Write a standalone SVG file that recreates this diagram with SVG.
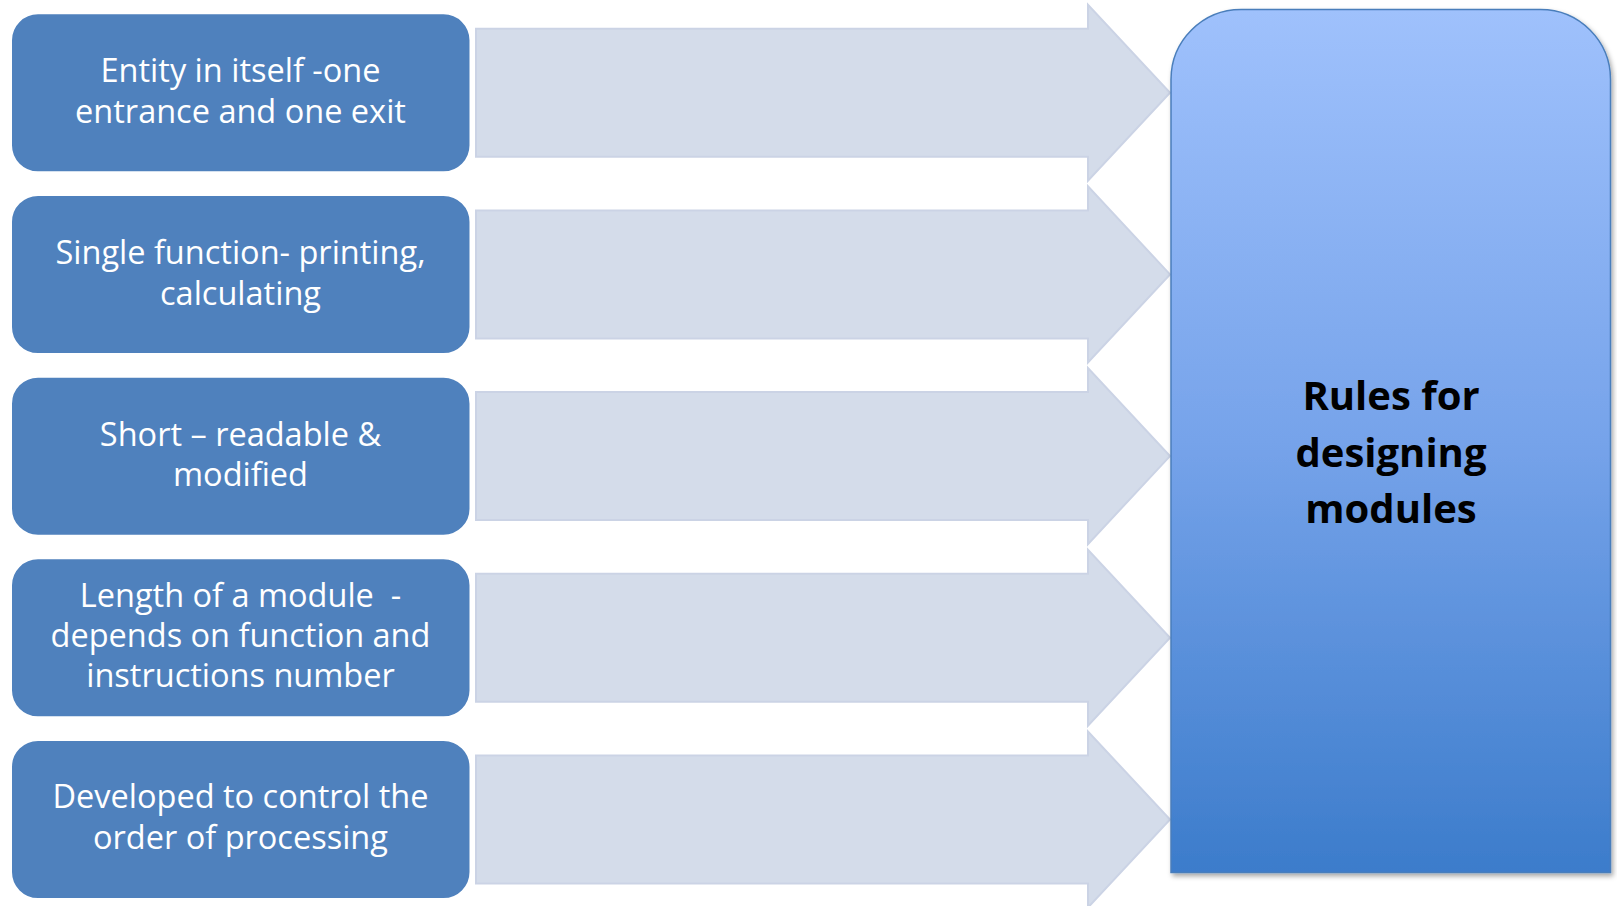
<svg xmlns="http://www.w3.org/2000/svg" width="1617" height="906" viewBox="0 0 1617 906">
  <style>
    .arrow { fill: #d4dcea; stroke: #cbd3e5; stroke-width: 2; stroke-linejoin: miter; }
    .box { fill: #4f81bd; stroke: #ffffff; stroke-width: 2; }
    .btxt { font-family: "Open Sans", "Liberation Sans", sans-serif; font-size: 32.5px; fill: #ffffff; text-anchor: middle; white-space: pre; }
    .big { font-family: "Open Sans", "Liberation Sans", sans-serif; font-size: 40px; font-weight: bold; fill: #000000; text-anchor: middle; }
  </style>
  <defs>
    <linearGradient id="bigGrad" x1="0" y1="0" x2="0" y2="1">
      <stop offset="0" stop-color="#9fc1fc"/>
      <stop offset="0.5" stop-color="#76a3ea"/>
      <stop offset="1" stop-color="#3c7ccb"/>
    </linearGradient>
    <filter id="shadow" x="-5%" y="-5%" width="110%" height="110%">
      <feDropShadow dx="2" dy="3" stdDeviation="2.5" flood-color="#000000" flood-opacity="0.35"/>
    </filter>
  </defs>
  <rect width="1617" height="906" fill="#ffffff"/>

  <g id="connectors">
    <path class="arrow" d="M476,28.7 L1088,28.7 L1088,4.7 L1170,92.7 L1088,180.7 L1088,156.7 L476,156.7 Z"/>
    <path class="arrow" d="M476,210.4 L1088,210.4 L1088,186.4 L1170,274.4 L1088,362.4 L1088,338.4 L476,338.4 Z"/>
    <path class="arrow" d="M476,392.1 L1088,392.1 L1088,368.1 L1170,456.1 L1088,544.1 L1088,520.1 L476,520.1 Z"/>
    <path class="arrow" d="M476,573.8 L1088,573.8 L1088,549.8 L1170,637.8 L1088,725.8 L1088,701.8 L476,701.8 Z"/>
    <path class="arrow" d="M476,755.5 L1088,755.5 L1088,731.5 L1170,819.5 L1088,907.5 L1088,883.5 L476,883.5 Z"/>
  </g>

  <g id="node1">
    <rect class="box" x="11" y="13.3" width="459.5" height="159" rx="27" ry="27"/>
    <text class="btxt" x="240.5" y="81.7">Entity in itself -one</text>
    <text class="btxt" x="240.5" y="123.3">entrance and one exit</text>
  </g>
  <g id="node2">
    <rect class="box" x="11" y="195" width="459.5" height="159" rx="27" ry="27"/>
    <text class="btxt" x="240.5" y="263.6">Single function- printing,</text>
    <text class="btxt" x="240.5" y="304.6">calculating</text>
  </g>
  <g id="node3">
    <rect class="box" x="11" y="376.7" width="459.5" height="159" rx="27" ry="27"/>
    <text class="btxt" x="240.5" y="445.7">Short – readable &amp;</text>
    <text class="btxt" x="240.5" y="486">modified</text>
  </g>
  <g id="node4">
    <rect class="box" x="11" y="558.3" width="459.5" height="159" rx="27" ry="27"/>
    <text class="btxt" x="240.5" y="606.7" xml:space="preserve">Length of a module  -</text>
    <text class="btxt" x="240.5" y="646.7">depends on function and</text>
    <text class="btxt" x="240.5" y="686.7">instructions number</text>
  </g>
  <g id="node5">
    <rect class="box" x="11" y="740" width="459.5" height="159" rx="27" ry="27"/>
    <text class="btxt" x="240.5" y="808">Developed to control the</text>
    <text class="btxt" x="240.5" y="849">order of processing</text>
  </g>

  <g id="rules">
    <path d="M1171,872.5 L1171,79.5 A70,70 0 0 1 1241,9.5 L1540.5,9.5 A70,70 0 0 1 1610.5,79.5 L1610.5,872.5 Z" fill="url(#bigGrad)" stroke="#4a7ebb" stroke-width="1.5" filter="url(#shadow)"/>
    <text class="big" x="1391" y="410">Rules for</text>
    <text class="big" x="1391" y="466.7">designing</text>
    <text class="big" x="1391" y="523.3">modules</text>
  </g>
</svg>
